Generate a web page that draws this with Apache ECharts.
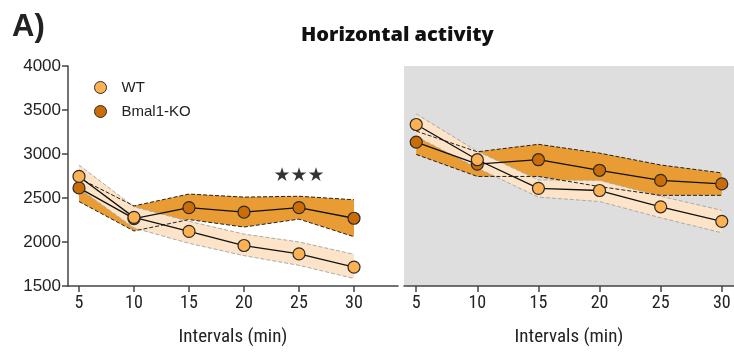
<!DOCTYPE html>
<html>
<head>
<meta charset="utf-8">
<script src="https://cdn.jsdelivr.net/npm/echarts@6/dist/echarts.min.js"></script>
<style>html,body{margin:0;padding:0;background:#fff}#c{width:734px;height:352px}</style>
</head>
<body>
<div id="c"></div>
<script>
// ---- data ----
const minutes = [5, 10, 15, 20, 25, 30];
const xTicks = [5, 10, 15, 20, 25, 30];
const yTicks = [1500, 2000, 2500, 3000, 3500, 4000];

// Left panel
const wtLeftMean  = [2745, 2280, 2120, 1960, 1865, 1715];
const wtLeftUpper = [2875, 2400, 2235, 2090, 2000, 1860];
const wtLeftLower = [2610, 2160, 1985, 1845, 1735, 1585];
const koLeftMean  = [2615, 2265, 2390, 2340, 2390, 2270];
const koLeftUpper = [2725, 2410, 2545, 2510, 2520, 2480];
const koLeftLower = [2460, 2125, 2255, 2170, 2260, 2060];

// Right panel
const wtRightMean  = [3335, 2935, 2610, 2585, 2400, 2235];
const wtRightUpper = [3455, 3030, 2705, 2700, 2520, 2360];
const wtRightLower = [3200, 2840, 2510, 2460, 2275, 2105];
const koRightMean  = [3135, 2885, 2935, 2815, 2700, 2660];
const koRightUpper = [3260, 3025, 3110, 3010, 2875, 2785];
const koRightLower = [2995, 2745, 2745, 2630, 2530, 2530];

// Significance annotation
const starPos = [25, 2745];
const starText = '★★★';

// ---- styles ----
const WT_FILL = '#FDB152', KO_FILL = '#CB6D07';
const WT_BAND = '#FDE4C8', KO_BAND = '#E99C33';
const NARROW = '"Liberation Sans Narrow", "Roboto Condensed", "Liberation Sans", sans-serif';
const ARIAL = '"Liberation Sans", Arial, sans-serif';

function band(idx, lower, upper, color, z) {
  return {
    type: 'custom', xAxisIndex: idx, yAxisIndex: idx, silent: true, z: z,
    data: minutes.map((m, i) => [m, lower[i], upper[i]]),
    renderItem: function (params, api) {
      if (params.dataIndex !== 0) return null;
      const pts = [];
      for (let i = 0; i < minutes.length; i++) pts.push(api.coord([minutes[i], upper[i]]));
      for (let i = minutes.length - 1; i >= 0; i--) pts.push(api.coord([minutes[i], lower[i]]));
      return { type: 'polygon', shape: { points: pts }, style: { fill: color, stroke: null } };
    }
  };
}
function edge(idx, vals, color, z) {
  return {
    type: 'line', xAxisIndex: idx, yAxisIndex: idx, silent: true, z: z,
    showSymbol: false, symbol: 'none',
    data: minutes.map((m, i) => [m, vals[i]]),
    lineStyle: { color: color, width: 1, type: [4, 2] }
  };
}
function mean(idx, name, vals, fill, z) {
  return {
    type: 'line', name: name, xAxisIndex: idx, yAxisIndex: idx, z: z,
    data: minutes.map((m, i) => [m, vals[i]]),
    symbol: 'circle', symbolSize: 12,
    lineStyle: { color: '#111', width: 1.3 },
    itemStyle: { color: fill, borderColor: '#2a2a2a', borderWidth: 1.2 }
  };
}

const axisLineStyle = { color: '#444', width: 1.5 };

const option = {
  animation: false,
  backgroundColor: '#fff',
  title: [
    { text: 'A)', left: 7, top: 7, textStyle: { fontSize: 31, fontWeight: 'bold', color: '#222', fontFamily: ARIAL } },
    { text: 'Horizontal activity', left: 296, top: 20, textStyle: { fontSize: 20, fontWeight: 800, color: '#111', fontFamily: '"Open Sans", Lato, sans-serif' } }
  ],
  legend: {
    orient: 'vertical', left: 89, top: 75, itemGap: 9,
    itemWidth: 12, itemHeight: 12, icon: 'circle',
    textStyle: { fontSize: 15, color: '#222', fontFamily: ARIAL, padding: [0, 0, 0, 10] },
    data: [
      { name: 'WT', itemStyle: { color: WT_FILL, borderColor: '#2a2a2a', borderWidth: 1 } },
      { name: 'Bmal1-KO', itemStyle: { color: KO_FILL, borderColor: '#2a2a2a', borderWidth: 1 } }
    ]
  },
  grid: [
    { left: 68, right: 336, top: 66, bottom: 65 },
    { left: 404, right: 0, top: 66, bottom: 65, show: true, backgroundColor: '#dedede', borderWidth: 0 }
  ],
  xAxis: [0, 1].map(i => ({
    type: 'value', gridIndex: i, min: 4, max: i === 0 ? 34 : 31,
    name: 'Intervals (min)', nameLocation: 'middle', nameGap: 42,
    nameTextStyle: { fontSize: 19, color: '#222', fontFamily: NARROW },
    axisLine: { show: true, onZero: false, lineStyle: axisLineStyle },
    axisTick: { show: true, length: 6, lineStyle: axisLineStyle, customValues: xTicks },
    axisLabel: { fontSize: 18, color: '#222', fontFamily: NARROW, margin: 8, customValues: xTicks },
    splitLine: { show: false }
  })),
  yAxis: [
    {
      type: 'value', gridIndex: 0, min: 1500, max: 4000, interval: 500,
      axisLine: { show: true, lineStyle: axisLineStyle },
      axisTick: { show: true, length: 6, lineStyle: axisLineStyle },
      axisLabel: { fontSize: 17, color: '#222', fontFamily: ARIAL, margin: 7, formatter: v => String(v) },
      splitLine: { show: false }
    },
    {
      type: 'value', gridIndex: 1, min: 1500, max: 4000, interval: 500,
      axisLine: { show: false }, axisTick: { show: false }, axisLabel: { show: false },
      splitLine: { show: false }
    }
  ],
  series: [
    band(0, koLeftLower, koLeftUpper, KO_BAND, 1),
    band(0, wtLeftLower, wtLeftUpper, WT_BAND, 2),
    edge(0, wtLeftUpper, '#aaa', 3), edge(0, wtLeftLower, '#aaa', 3),
    edge(0, koLeftUpper, '#222', 4), edge(0, koLeftLower, '#222', 4),
    mean(0, 'Bmal1-KO', koLeftMean, KO_FILL, 5),
    mean(0, 'WT', wtLeftMean, WT_FILL, 6),

    band(1, koRightLower, koRightUpper, KO_BAND, 1),
    band(1, wtRightLower, wtRightUpper, WT_BAND, 2),
    edge(1, wtRightUpper, '#aaa', 3), edge(1, wtRightLower, '#aaa', 3),
    edge(1, koRightUpper, '#222', 4), edge(1, koRightLower, '#222', 4),
    mean(1, 'Bmal1-KO', koRightMean, KO_FILL, 5),
    mean(1, 'WT', wtRightMean, WT_FILL, 6),

    {
      type: 'scatter', xAxisIndex: 0, yAxisIndex: 0, silent: true, z: 7,
      symbolSize: 0, data: [starPos],
      label: { show: true, position: 'inside', formatter: starText, fontSize: 19, color: '#000', fontFamily: '"DejaVu Sans", sans-serif' }
    }
  ]
};
const chart = echarts.init(document.getElementById('c'), null, { renderer: 'canvas' });
chart.setOption(option);
</script>
</body>
</html>
